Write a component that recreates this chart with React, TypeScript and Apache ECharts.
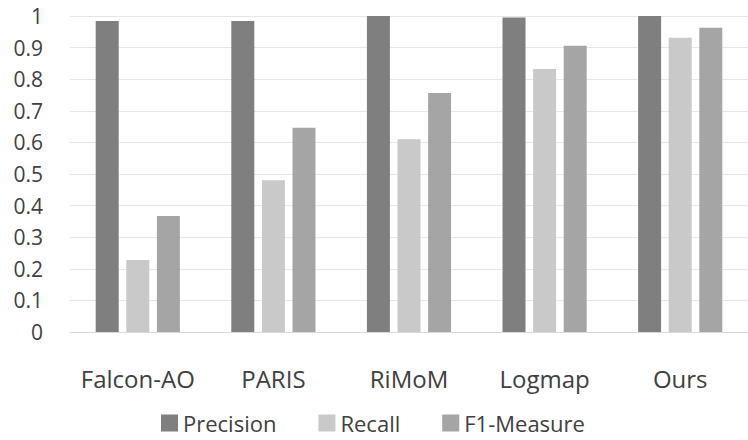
import React, { useEffect, useRef } from "react";
import * as echarts from "echarts";

const categories = ["Falcon-AO", "PARIS", "RiMoM", "Logmap", "Ours"];
const precision = [0.984, 0.984, 1.0, 0.995, 1.0];
const recall = [0.228, 0.48, 0.61, 0.832, 0.931];
const f1 = [0.367, 0.646, 0.756, 0.906, 0.963];
const seriesNames = ["Precision", "Recall", "F1-Measure"];
const colors = ["#7f7f7f", "#c9c9c9", "#a5a5a5"];

const FONT = "'Open Sans', 'Noto Sans', sans-serif";

export default function App() {
  const ref = useRef<HTMLDivElement>(null);
  useEffect(() => {
    if (!ref.current) return;
    const chart = echarts.init(ref.current, undefined, { renderer: "svg" });
    const data = [precision, recall, f1];
    chart.setOption({
      animation: false,
      backgroundColor: "#ffffff",
      grid: { left: 70, right: -6, top: 16, bottom: 108, containLabel: false },
      legend: {
        left: 156,
        top: 406,
        itemWidth: 17,
        itemHeight: 17,
        itemGap: 42,
        icon: "rect",
        textStyle: { fontFamily: FONT, fontSize: 22, lineHeight: 24, color: "#404040" },
        data: seriesNames,
      },
      xAxis: {
        type: "category",
        data: categories,
        axisLine: { show: true, lineStyle: { color: "#d9d9d9" } },
        axisTick: { show: false },
        axisLabel: { fontFamily: FONT, fontSize: 24, color: "#404040", margin: 34, interval: 0 },
      },
      yAxis: {
        type: "value",
        min: 0,
        max: 1,
        interval: 0.1,
        axisLine: { show: false },
        axisTick: { show: false },
        splitLine: { lineStyle: { color: "#e6e6e6" } },
        axisLabel: {
          fontFamily: FONT,
          fontSize: 21,
          color: "#404040",
          margin: 27,
          formatter: (v: number) => String(Math.round(v * 10) / 10),
        },
      },
      series: seriesNames.map((name, i) => ({
        name,
        type: "bar",
        data: data[i],
        barWidth: 23,
        barGap: "33%",
        itemStyle: { color: colors[i] },
      })),
    });
    return () => chart.dispose();
  }, []);
  return (
    <div
      ref={ref}
      style={{ position: "fixed", left: 0, top: 0, width: 748, height: 440 }}
    />
  );
}
